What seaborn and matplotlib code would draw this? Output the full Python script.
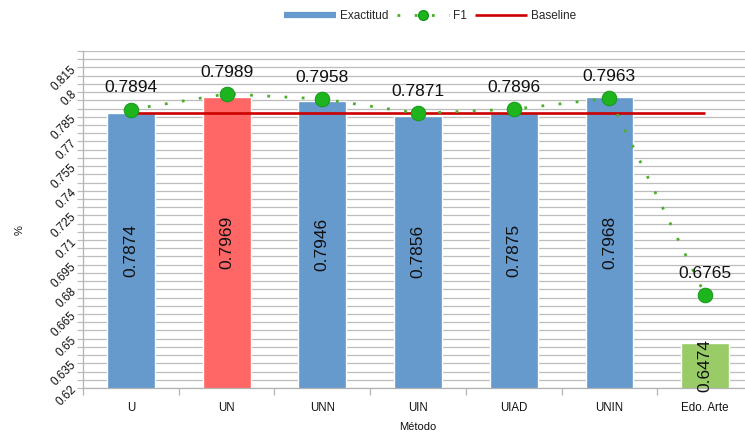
import matplotlib
matplotlib.use("Agg")
import matplotlib.pyplot as plt
from matplotlib.lines import Line2D
from matplotlib.ticker import FixedLocator, MultipleLocator
import numpy as np
import seaborn as sns

# Results per method
metodos = ["U", "UN", "UNN", "UIN", "UIAD", "UNIN", "Edo. Arte"]
exactitud = [0.7874, 0.7969, 0.7946, 0.7856, 0.7875, 0.7968, 0.6474]
f1 = [0.7894, 0.7989, 0.7958, 0.7871, 0.7896, 0.7963, 0.6765]
baseline = 0.787
colores = ["#6699cc", "#ff6666", "#6699cc", "#6699cc", "#6699cc", "#6699cc", "#99cc66"]

y_min, y_max = 0.62, 0.825
y_major = [round(0.62 + 0.015 * i, 3) for i in range(14)]

sns.set_theme(style="white")
plt.rcParams["font.family"] = ["Liberation Sans", "DejaVu Sans"]

fig = plt.figure(figsize=(7.45, 4.32), dpi=100)
ax = fig.add_axes([83 / 745, 44 / 432, 670 / 745, 337 / 432])

sns.barplot(x=metodos, y=exactitud, hue=metodos, palette=colores,
            width=0.5, legend=False, saturation=1, ax=ax, zorder=2)

pos = np.arange(len(metodos))

# Baseline across all methods
ax.plot([pos[0], pos[-1]], [baseline, baseline], color="#cc0000", lw=1.9,
        solid_capstyle="butt", zorder=3)

# F1 dotted connection and markers
ax.plot(pos, f1, color="#4caf2a", lw=2.0, linestyle=(0, (1, 5.2)),
        dash_capstyle="butt", zorder=4)
ax.plot(pos, f1, linestyle="none", marker="o", markersize=10.5,
        markerfacecolor="#1db41d", markeredgecolor="#16961a",
        markeredgewidth=0.7, zorder=5)

# Value labels
for x, v in zip(pos, f1):
    ax.annotate(f"{v:.4f}", (x, v), xytext=(0, 15.5), textcoords="offset points",
                ha="center", va="center", fontsize=12.5, color="#111111", zorder=7)
for x, v in zip(pos, exactitud):
    ax.text(x, (y_min + v) / 2, f"{v:.4f}", rotation=90, ha="center", va="center",
            fontsize=12.5, color="#111111", zorder=7, clip_on=False)

# Axes
ax.set_xlim(-0.5, len(metodos) - 0.5)
ax.set_ylim(y_min, y_max)
ax.yaxis.set_major_locator(FixedLocator(y_major))
ax.yaxis.set_minor_locator(MultipleLocator(0.005))
ax.set_yticklabels([f"{v:g}" for v in y_major], rotation=45, ha="right",
                   rotation_mode="anchor", va="center")
ax.grid(True, axis="y", which="both", color="#bdbdbd", lw=0.9, zorder=0)
ax.set_axisbelow(True)

ax.set_xticks(pos)
ax.set_xticklabels(metodos)
ax.xaxis.set_minor_locator(FixedLocator(np.arange(-0.5, len(metodos), 1.0)))
ax.tick_params(axis="x", which="major", length=0, pad=10, labelsize=8.3,
               labelcolor="#111111")
ax.tick_params(axis="x", which="minor", length=5, width=0.9, color="#b3b3b3",
               direction="out", bottom=True)
ax.tick_params(axis="y", which="both", length=4, width=0.9, color="#bdbdbd",
               direction="out", left=True, labelsize=8.5, labelcolor="#111111", pad=2)

for s in ("top", "right"):
    ax.spines[s].set_visible(False)
for s in ("left", "bottom"):
    ax.spines[s].set_color("#b3b3b3")
    ax.spines[s].set_linewidth(0.9)

ax.set_xlabel("Método", fontsize=8, color="#111111", labelpad=6)
ax.set_ylabel("%", fontsize=8, color="#111111")
ax.yaxis.set_label_coords(-0.087, 0.47)

# Legend
handles = [
    Line2D([], [], color="#6699cc", lw=4.5, solid_capstyle="butt"),
    Line2D([], [], color="#4caf2a", lw=2.0, linestyle=(0, (1, 5.2)),
           marker="o", markersize=7, markerfacecolor="#1db41d",
           markeredgecolor="#16961a"),
    Line2D([], [], color="#cc0000", lw=1.9, solid_capstyle="butt"),
]
fig.legend(handles, ["Exactitud", "F1", "Baseline"], loc="center",
           bbox_to_anchor=(430 / 745, 1 - 16 / 432), ncol=3, frameon=False,
           fontsize=8.5, handlelength=4.4, handletextpad=0.35,
           columnspacing=0.7, numpoints=1)

fig.savefig("out.png", dpi=100)
